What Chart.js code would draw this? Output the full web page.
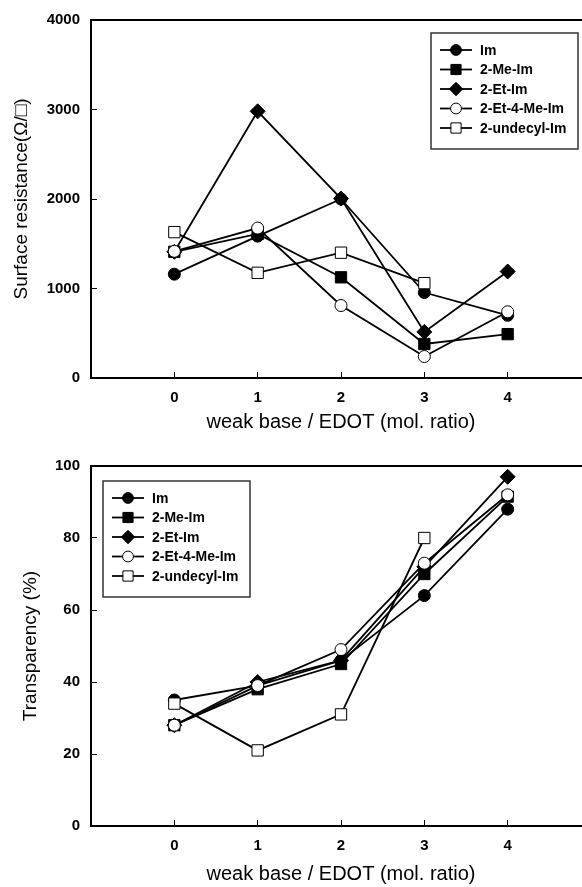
<!DOCTYPE html>
<html><head><meta charset="utf-8">
<script src="https://cdn.jsdelivr.net/npm/chart.js@4.4.0/dist/chart.umd.min.js"></script>
<style>
html,body{margin:0;padding:0;background:#fff;overflow:hidden;width:582px;height:887px}
#wrap{position:relative;width:582px;height:887px;overflow:hidden;background:#fff}
.c{position:absolute;left:0}
</style></head><body>
<div id="wrap">
<div class="c" style="top:-6px"><canvas id="c1" width="600" height="440"></canvas></div>
<div class="c" style="top:440px"><canvas id="c2" width="600" height="447"></canvas></div>
</div>
<script>
// ---- data ----
const ratios = [0, 1, 2, 3, 4];
const xTickValues = [0, 1, 2, 3, 4];
const seriesNames = ['Im', '2-Me-Im', '2-Et-Im', '2-Et-4-Me-Im', '2-undecyl-Im'];

const resIm      = [1160, 1585, 2000, 955, 700];
const resMeIm    = [1410, 1610, 1125, 380, 490];
const resEtIm    = [1410, 2980, 2005, 515, 1190];
const resEtMeIm  = [1415, 1675, 810, 240, 740];
const resUndecyl = [1630, 1175, 1400, 1060, null];
const resTicks   = [0, 1000, 2000, 3000, 4000];

const trIm      = [35, 39, 46, 64, 88];
const trMeIm    = [28, 38, 45, 70, 91.5];
const trEtIm    = [28, 40, 46, 72, 97];
const trEtMeIm  = [28, 39, 49, 73, 92];
const trUndecyl = [34, 21, 31, 80, null];
const trTicks   = [0, 20, 40, 60, 80, 100];

// ---- styles ----
const markerStyles = [
  {pointStyle: 'circle', fill: '#000', radius: 6},
  {pointStyle: 'rect', fill: '#000', radius: 8},
  {pointStyle: 'rectRot', fill: '#000', radius: 7.5},
  {pointStyle: 'circle', fill: '#fff', radius: 6},
  {pointStyle: 'rect', fill: '#fff', radius: 8}
];
const FONT = "'Liberation Sans', Arial, Helvetica, sans-serif";

function makeDatasets(seriesList) {
  return seriesList.map((vals, i) => ({
    label: seriesNames[i],
    data: ratios.map((r, j) => ({x: r, y: vals[j]})),
    borderColor: '#000',
    borderWidth: 1.8,
    pointStyle: markerStyles[i].pointStyle,
    pointRadius: markerStyles[i].radius,
    pointHoverRadius: markerStyles[i].radius,
    pointBackgroundColor: markerStyles[i].fill,
    pointBorderColor: '#000',
    pointBorderWidth: 1,
    fill: false,
    tension: 0,
    spanGaps: false,
    order: 4 - i
  }));
}

const framePlugin = {
  id: 'frame',
  afterDraw(chart) {
    const {ctx, chartArea: a} = chart;
    ctx.save();
    ctx.strokeStyle = '#000';
    ctx.lineWidth = 2;
    ctx.beginPath();
    ctx.moveTo(a.left, a.top);
    ctx.lineTo(a.right, a.top);
    ctx.stroke();
    ctx.restore();
  }
};

const boxLegendPlugin = {
  id: 'boxLegend',
  afterDraw(chart, args, opts) {
    const {ctx} = chart;
    ctx.save();
    ctx.strokeStyle = '#333';
    ctx.lineWidth = 1.5;
    ctx.fillStyle = '#fff';
    ctx.fillRect(opts.x, opts.y, opts.w, opts.h);
    ctx.strokeRect(opts.x, opts.y, opts.w, opts.h);
    chart.data.datasets.forEach((ds, i) => {
      const cy = opts.y + opts.firstRow + i * opts.rowH;
      const lx0 = opts.x + 9, lx1 = opts.x + 41, cx = opts.x + 25;
      ctx.strokeStyle = '#000';
      ctx.lineWidth = 1.8;
      ctx.beginPath();
      ctx.moveTo(lx0, cy); ctx.lineTo(lx1, cy); ctx.stroke();
      ctx.fillStyle = ds.pointBackgroundColor;
      ctx.strokeStyle = '#000';
      ctx.lineWidth = 1;
      Chart.helpers.drawPoint(ctx, {pointStyle: ds.pointStyle, radius: ds.pointRadius * 0.9, rotation: 0, borderWidth: 1}, cx, cy);
      ctx.fillStyle = '#000';
      ctx.font = 'bold 14px ' + FONT;
      ctx.textBaseline = 'middle';
      ctx.textAlign = 'left';
      ctx.fillText(ds.label, opts.x + 49, cy + 1);
    });
    ctx.restore();
  }
};

function makeChart(id, seriesList, yMax, yTicks, yTitle, yTitlePad, xTitlePad, yAxisWidth, xAxisHeight, padTop, legend) {
  return new Chart(document.getElementById(id), {
    type: 'line',
    data: {datasets: makeDatasets(seriesList)},
    plugins: [framePlugin, boxLegendPlugin],
    options: {
      responsive: false,
      animation: false,
      events: [],
      layout: {padding: {top: padTop, right: 9, bottom: 0, left: 0}},
      plugins: {legend: {display: false}, tooltip: {enabled: false}, boxLegend: legend},
      scales: {
        x: {
          type: 'linear', position: 'bottom', min: -1, max: 5,
          afterBuildTicks: s => { s.ticks = xTickValues.map(v => ({value: v})); },
          afterFit: s => { s.height = xAxisHeight; },
          grid: {drawOnChartArea: false, tickLength: -6, color: '#000', lineWidth: 1},
          border: {color: '#000', width: 2},
          ticks: {color: '#000', padding: 17, font: {family: FONT, size: 15, weight: 'bold'}, callback: v => String(v)},
          title: {display: true, text: 'weak base / EDOT (mol. ratio)', color: '#000',
                  font: {family: FONT, size: 20}, padding: {top: 0, bottom: xTitlePad}}
        },
        y: {
          type: 'linear', min: 0, max: yMax,
          afterBuildTicks: s => { s.ticks = yTicks.map(v => ({value: v})); },
          afterFit: s => { s.width = yAxisWidth; },
          grid: {drawOnChartArea: false, tickLength: -6, color: '#000', lineWidth: 1},
          border: {color: '#000', width: 2},
          ticks: {color: '#000', padding: 17, font: {family: FONT, size: 15, weight: 'bold'}, callback: v => String(v)},
          title: {display: true, text: yTitle, color: '#000',
                  font: {family: FONT, size: 19}, padding: {top: yTitlePad, bottom: 0}}
        }
      }
    }
  });
}

makeChart('c1', [resIm, resMeIm, resEtIm, resEtMeIm, resUndecyl], 4000, resTicks,
  'Surface resistance(\u03A9/\u25A1)', 10, 0, 91, 56, 26,
  {x: 431, y: 39, w: 147, h: 116, firstRow: 17, rowH: 19.5});

makeChart('c2', [trIm, trMeIm, trEtIm, trEtMeIm, trUndecyl], 100, trTicks,
  'Transparency (%)', 19, 1, 91, 61, 26,
  {x: 103, y: 41, w: 147, h: 116, firstRow: 17, rowH: 19.5});
</script>
</body></html>
